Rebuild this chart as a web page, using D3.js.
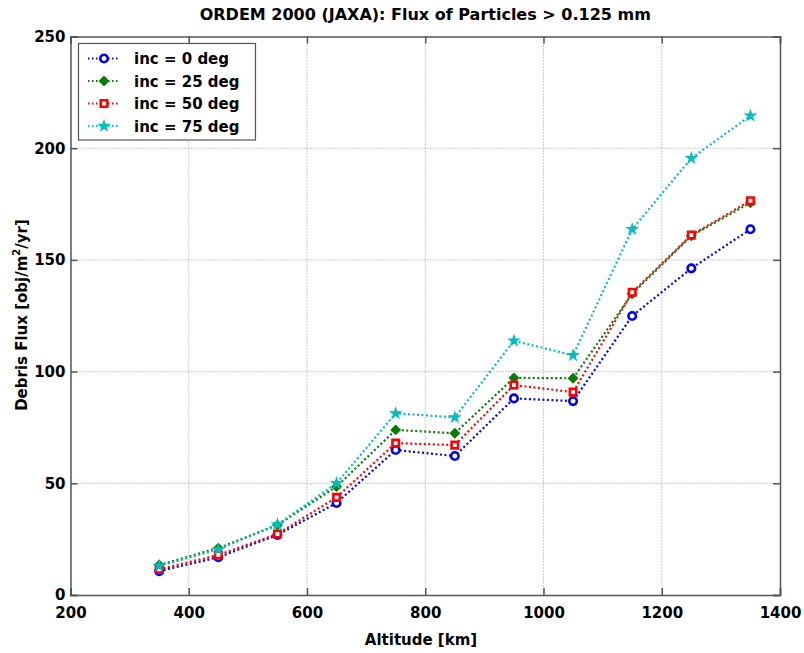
<!DOCTYPE html>
<html><head><meta charset="utf-8">
<script src="https://cdn.jsdelivr.net/npm/d3@7"></script>
<style>body{margin:0;background:#fff;} text{font-family:"DejaVu Sans",sans-serif;font-weight:bold;fill:#000;}</style>
</head><body><svg id="c" width="804" height="653"></svg>
<script>
const altitudes = [350,450,550,650,750,850,950,1050,1150,1250,1350];
const inc0  = [10.7,16.9,26.9,41.2,64.9,62.2,88.0,86.8,124.9,146.2,163.7];
const inc25 = [13.4,21.0,31.3,48.5,73.9,72.4,97.2,97.0,134.8,160.8,175.6];
const inc50 = [11.5,17.9,27.3,43.7,68.0,67.1,94.0,90.8,135.5,161.1,176.5];
const inc75 = [13.0,20.4,31.6,50.0,81.3,79.5,113.8,107.3,163.7,195.5,214.5];
const seriesNames = ["inc = 0 deg","inc = 25 deg","inc = 50 deg","inc = 75 deg"];
const xTicks = [200,400,600,800,1000,1200,1400];
const yTicks = [0,50,100,150,200,250];
const titleText = "ORDEM 2000 (JAXA): Flux of Particles > 0.125 mm";
const xLabel = "Altitude [km]";

const series = [
  {name: seriesNames[0], values: inc0,  color: "#0000ff", marker: "circle"},
  {name: seriesNames[1], values: inc25, color: "#008000", marker: "diamond"},
  {name: seriesNames[2], values: inc50, color: "#ff0000", marker: "square"},
  {name: seriesNames[3], values: inc75, color: "#00bfbf", marker: "star"}
];

const svg = d3.select("#c");
const L = 70.5, R = 780, T = 36.5, B = 595;
const x = d3.scaleLinear().domain([200,1400]).range([L,R]);
const y = d3.scaleLinear().domain([0,250]).range([B,T]);

// grid
const g = svg.append("g");
g.selectAll(".gx").data(xTicks.slice(1,-1)).enter().append("line")
  .attr("x1", d=>x(d)).attr("x2", d=>x(d)).attr("y1",T).attr("y2",B)
  .attr("stroke","#999").attr("stroke-width",1).attr("stroke-dasharray","1,2");
g.selectAll(".gy").data(yTicks.slice(1,-1)).enter().append("line")
  .attr("y1", d=>y(d)).attr("y2", d=>y(d)).attr("x1",L).attr("x2",R)
  .attr("stroke","#999").attr("stroke-width",1).attr("stroke-dasharray","1,2");

// axes
const xAxisB = d3.axisBottom(x).tickValues(xTicks).tickSize(-7).tickPadding(12).tickFormat(d3.format("d"));
const xAxisT = d3.axisTop(x).tickValues(xTicks).tickSize(-7).tickFormat("");
const yAxisL = d3.axisLeft(y).tickValues(yTicks).tickSize(-7).tickPadding(5).tickFormat(d3.format("d"));
const yAxisR = d3.axisRight(y).tickValues(yTicks).tickSize(-7).tickFormat("");
function style(sel){
  sel.select(".domain").attr("stroke","#555").attr("stroke-width",1.5);
  sel.selectAll(".tick line").attr("stroke","#555").attr("stroke-width",1.5);
  sel.selectAll(".tick text").attr("font-size","15px").attr("font-family","DejaVu Sans, sans-serif").attr("font-weight","bold").attr("fill","#000");
}
svg.append("g").attr("transform",`translate(0,${B})`).call(xAxisB).call(style);
svg.append("g").attr("transform",`translate(0,${T})`).call(xAxisT).call(style);
svg.append("g").attr("transform",`translate(${L},0)`).call(yAxisL).call(style);
svg.append("g").attr("transform",`translate(${R},0)`).call(yAxisR).call(style);

// markers
const sym = {
  circle: d3.symbol().type(d3.symbolCircle).size(44),
  diamond: d3.symbol().type(d3.symbolSquare).size(26),
  square: d3.symbol().type(d3.symbolSquare).size(42),
  star: d3.symbol().type(d3.symbolStar).size(28)
};
function drawMarker(sel, s){
  sel.attr("d", sym[s.marker]())
    .attr("fill", s.marker==="circle" || s.marker==="square" ? "#fff" : s.color)
    .attr("stroke", s.color).attr("stroke-width", s.marker==="star"?1.4:2.6);
}

const line = d3.line().x((d,i)=>x(altitudes[i])).y(d=>y(d));
series.forEach(s=>{
  const gs = svg.append("g");
  gs.append("path").datum(s.values).attr("d", line).attr("fill","none")
    .attr("stroke", s.color).attr("stroke-width",2.2).attr("stroke-dasharray","2,2.5");
  gs.selectAll("path.m").data(s.values).enter().append("path").attr("class","m")
    .attr("transform",(d,i)=>`translate(${x(altitudes[i])},${y(d)})` + (s.marker==="diamond"?" rotate(45)":""))
    .call(sel=>drawMarker(sel,s));
});

// legend
const lg = svg.append("g");
lg.append("rect").attr("x",78.5).attr("y",43.5).attr("width",177).attr("height",96.5)
  .attr("fill","#fff").attr("stroke","#555").attr("stroke-width",1.2);
series.forEach((s,i)=>{
  const yy = 58.5 + i*22.5;
  lg.append("line").attr("x1",88).attr("x2",120).attr("y1",yy).attr("y2",yy)
    .attr("stroke",s.color).attr("stroke-width",2).attr("stroke-dasharray","1.5,2.5");
  lg.append("path").attr("transform",`translate(104,${yy})` + (s.marker==="diamond"?" rotate(45)":"")).call(sel=>drawMarker(sel,s));
  lg.append("text").attr("x",134).attr("y",yy+5.5).attr("font-size","15px").text(s.name);
});

// title & labels
svg.append("text").attr("x",(L+R)/2).attr("y",20).attr("text-anchor","middle").attr("font-size","16px").text(titleText);
svg.append("text").attr("x",421).attr("y",645).attr("text-anchor","middle").attr("font-size","15px").text(xLabel);
const yl = svg.append("text").attr("transform",`translate(27,315) rotate(-90)`).attr("text-anchor","middle").attr("font-size","15px");
yl.append("tspan").text("Debris Flux [obj/m");
yl.append("tspan").attr("font-size","10px").attr("dy",-7).text("2");
yl.append("tspan").attr("dy",7).text("/yr]");
</script></body></html>
